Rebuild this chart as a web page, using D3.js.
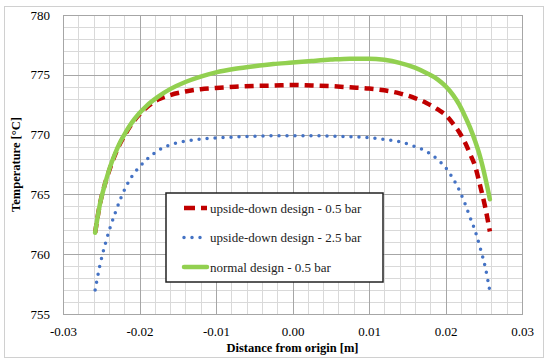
<!DOCTYPE html>
<html>
<head>
<meta charset="utf-8">
<script src="https://cdnjs.cloudflare.com/ajax/libs/d3/7.8.5/d3.min.js"></script>
<style>
  body { margin: 0; background: #fff; }
</style>
</head>
<body>
<svg id="chart" width="550" height="364"></svg>
<script>
// distance from origin [m]
var distance = [-0.0258, -0.0252, -0.0245, -0.0239, -0.0232, -0.0225, -0.0218, -0.021, -0.02, -0.019,
  -0.0175, -0.016, -0.014, -0.012, -0.01, -0.0075, -0.005, -0.0025, 0, 0.0025,
  0.005, 0.0075, 0.01, 0.012, 0.014, 0.016, 0.0175, 0.019, 0.02, 0.021,
  0.0218, 0.0225, 0.0232, 0.0239, 0.0245, 0.0252, 0.0258];

// temperature [°C]
var upsideDown05 = [761.8, 764.1, 765.9, 767.1, 768.3, 769.3, 770.1, 770.9, 771.7, 772.3,
  772.95, 773.3, 773.6, 773.8, 773.9, 774.0, 774.07, 774.1, 774.15, 774.1,
  774.05, 773.95, 773.85, 773.7, 773.45, 773.05, 772.65, 772.1, 771.65, 770.9,
  770.2, 769.4, 768.4, 767.3, 765.8, 763.9, 761.9];
var upsideDown25 = [757.0, 759.0, 760.8, 762.1, 763.4, 764.6, 765.6, 766.5, 767.3, 767.95,
  768.7, 769.15, 769.45, 769.62, 769.72, 769.8, 769.86, 769.9, 769.9, 769.9,
  769.87, 769.82, 769.75, 769.6, 769.4, 769.0, 768.6, 767.9, 767.25, 766.3,
  765.35, 764.3, 763.1, 761.9, 760.6, 758.9, 756.9];
var normal05 = [761.8, 764.1, 765.9, 767.2, 768.4, 769.4, 770.2, 771.0, 771.8, 772.45,
  773.2, 773.8, 774.4, 774.85, 775.2, 775.5, 775.72, 775.9, 776.02, 776.15,
  776.27, 776.35, 776.35, 776.25, 776.0, 775.6, 775.15, 774.6, 774.05, 773.3,
  772.5, 771.6, 770.6, 769.4, 768.2, 766.4, 764.6];

var seriesNames = ["upside-down design - 0.5 bar", "upside-down design - 2.5 bar", "normal design - 0.5 bar"];
var xTicks = [-0.03, -0.02, -0.01, 0, 0.01, 0.02, 0.03];
var yTicks = [755, 760, 765, 770, 775, 780];

var FONT = "'Liberation Serif', 'Times New Roman', serif";
var svg = d3.select("#chart");
var pl = 63, pr = 522, pt = 15, pb = 314;

var x = d3.scaleLinear().domain([-0.03, 0.03]).range([pl, pr]);
var y = d3.scaleLinear().domain([755, 780]).range([pb, pt]);

// outer frame
svg.append("rect")
  .attr("x", 4.5).attr("y", 6.5).attr("width", 539).attr("height", 351)
  .attr("fill", "#fff").attr("stroke", "#d0d0d0");

// minor grid
var g = svg.append("g");
g.selectAll(".vminor").data(d3.range(0, 31)).enter().append("line")
  .attr("x1", function (i) { return Math.round(x(-0.03 + i * 0.002)) + 0.5; })
  .attr("x2", function (i) { return Math.round(x(-0.03 + i * 0.002)) + 0.5; })
  .attr("y1", pt).attr("y2", pb)
  .attr("stroke", "#d9d9d9");
g.selectAll(".hminor").data(d3.range(755, 781)).enter().append("line")
  .attr("y1", function (d) { return Math.round(y(d)) + 0.5; })
  .attr("y2", function (d) { return Math.round(y(d)) + 0.5; })
  .attr("x1", pl).attr("x2", pr)
  .attr("stroke", "#d9d9d9");

// major grid
g.selectAll(".vmajor").data(xTicks).enter().append("line")
  .attr("x1", function (d) { return Math.round(x(d)) + 0.5; })
  .attr("x2", function (d) { return Math.round(x(d)) + 0.5; })
  .attr("y1", pt).attr("y2", pb)
  .attr("stroke", "#a6a6a6");
g.selectAll(".hmajor").data(yTicks).enter().append("line")
  .attr("y1", function (d) { return Math.round(y(d)) + 0.5; })
  .attr("y2", function (d) { return Math.round(y(d)) + 0.5; })
  .attr("x1", pl).attr("x2", pr)
  .attr("stroke", "#a6a6a6");

// axes (labels only)
var yAxis = svg.append("g")
  .attr("transform", "translate(" + (pl - 10) + ",0)")
  .call(d3.axisLeft(y).tickValues(yTicks).tickSize(0).tickFormat(d3.format("d")));
var xAxis = svg.append("g")
  .attr("transform", "translate(0," + (pb + 10) + ")")
  .call(d3.axisBottom(x).tickValues(xTicks).tickSize(0)
    .tickFormat(function (d) { return Math.abs(d) < 1e-9 ? "0.00" : d.toFixed(2); }));
[yAxis, xAxis].forEach(function (a) {
  a.select(".domain").remove();
  a.attr("font-family", FONT).attr("font-size", 13);
  a.selectAll("text").attr("fill", "#000");
});

svg.append("text")
  .attr("x", (pl + pr) / 2).attr("y", 352)
  .attr("text-anchor", "middle")
  .attr("font-family", FONT).attr("font-size", 12.5).attr("font-weight", "bold")
  .text("Distance from origin [m]");
svg.append("text")
  .attr("transform", "translate(20," + (pt + pb) / 2 + ") rotate(-90)")
  .attr("text-anchor", "middle")
  .attr("font-family", FONT).attr("font-size", 12.5).attr("font-weight", "bold")
  .text("Temperature [°C]");

// lines
var line = d3.line()
  .curve(d3.curveMonotoneX)
  .x(function (d) { return x(d[0]); })
  .y(function (d) { return y(d[1]); });

var styles = [
  { color: "#c00000", width: 4.5, dash: "9,6", cap: "butt" },
  { color: "#4472c4", width: 3.5, dash: "0,8", cap: "round" },
  { color: "#92d050", width: 4.5, dash: null, cap: "round" }
];
var values = [upsideDown05, upsideDown25, normal05];

// draw blue, red, then green on top
[1, 0, 2].forEach(function (i) {
  var pts = distance.map(function (d, k) { return [d, values[i][k]]; });
  svg.append("path")
    .attr("d", line(pts))
    .attr("fill", "none")
    .attr("stroke", styles[i].color)
    .attr("stroke-width", styles[i].width)
    .attr("stroke-dasharray", styles[i].dash)
    .attr("stroke-linecap", styles[i].cap);
});

// plot area border
svg.append("rect")
  .attr("x", pl + 0.5).attr("y", pt + 0.5)
  .attr("width", pr - pl).attr("height", pb - pt)
  .attr("fill", "none").attr("stroke", "#a6a6a6");

// legend
var lg = svg.append("g");
lg.append("rect")
  .attr("x", 166).attr("y", 193).attr("width", 217).attr("height", 89)
  .attr("fill", "#fff").attr("stroke", "#222").attr("stroke-width", 1.5);
seriesNames.forEach(function (name, i) {
  var yy = 208 + i * 29.5;
  lg.append("line")
    .attr("x1", 184).attr("x2", 207).attr("y1", yy).attr("y2", yy)
    .attr("stroke", styles[i].color)
    .attr("stroke-width", styles[i].width)
    .attr("stroke-dasharray", i === 0 ? "11,6" : styles[i].dash)
    .attr("stroke-linecap", styles[i].cap);
  lg.append("text")
    .attr("x", 210).attr("y", yy + 4.5)
    .attr("font-family", FONT).attr("font-size", 13)
    .attr("fill", "#222")
    .text(name);
});
</script>
</body>
</html>
